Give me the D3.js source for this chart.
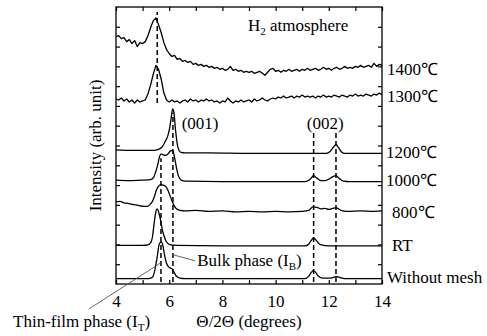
<!DOCTYPE html>
<html><head><meta charset="utf-8">
<script src="https://cdn.jsdelivr.net/npm/d3@7"></script>
<style>
body{margin:0;background:#fff}
svg{display:block}
text{font-family:"Liberation Serif","Times New Roman",serif;font-size:17px;fill:#000}
</style>
</head><body><svg id="c" width="487" height="336"></svg>
<script>
// ---------- data ----------
const xTickValues = [4,5,6,7,8,9,10,11,12,13,14];
const xTickLabels = [4,6,8,10,12,14];
const yTickValues = [20,40,60,80,100,120,140,160,180,200,220,240,260];
const seriesNames = ["1400℃","1300℃","1200℃","1000℃","800℃","RT","Without mesh"];

// noisy scans (sampled every 0.1 deg)
const thetaGrid = [4.0,4.1,4.2,4.3,4.4,4.5,4.6,4.7,4.8,4.9,5.0,5.1,5.2,5.3,5.4,5.5,5.6,5.7,5.8,5.9,
6.0,6.1,6.2,6.3,6.4,6.5,6.6,6.7,6.8,6.9,7.0,7.1,7.2,7.3,7.4,7.5,7.6,7.7,7.8,7.9,
8.0,8.1,8.2,8.3,8.4,8.5,8.6,8.7,8.8,8.9,9.0,9.1,9.2,9.3,9.4,9.5,9.6,9.7,9.8,9.9,
10.0,10.1,10.2,10.3,10.4,10.5,10.6,10.7,10.8,10.9,11.0,11.1,11.2,11.3,11.4,11.5,11.6,11.7,11.8,11.9,
12.0,12.1,12.2,12.3,12.4,12.5,12.6,12.7,12.8,12.9,13.0,13.1,13.2,13.3,13.4,13.5,13.6,13.7,13.8,13.9,14.0];

const i1400 = [250,251,248,249,245,247,243,246,240,244,243,245,251,259,266,269,262,254,244,237,
233,230,231,227,228,225,226,224,225,222,223,221,222,220,221,219,220,218,219,217,
218,216,217,220,216,217,215,216,214,215,214,215,213,214,215,213,211,214,217,218,
215,216,214,216,215,217,215,216,217,215,217,216,218,216,217,218,216,217,219,217,
218,216,218,219,217,218,220,218,219,218,220,219,221,219,220,221,219,223,220,222,221];

const i1300 = [187,186,188,185,187,184,186,183,186,184,185,186,192,201,212,221,217,207,193,186,
184,186,184,185,183,185,186,184,187,185,186,184,186,185,187,185,186,184,185,183,
185,184,188,185,183,185,184,186,184,185,186,184,187,185,186,188,186,185,187,188,
187,189,188,190,188,189,190,188,190,189,191,189,190,189,190,188,190,189,191,189,
190,189,191,190,189,191,190,189,191,190,192,190,191,190,192,191,190,192,191,193,191];

// smooth scans: [2theta, intensity]
const i1200 = [[4.0,135.5],[4.5,135],[5.0,135],[5.4,135],[5.6,136],[5.75,139],[5.85,144],[5.95,150],
[6.02,158],[6.08,169],[6.13,177],[6.18,173],[6.23,158],[6.3,142],[6.37,135],[6.45,133],[6.6,132.5],
[7.5,132.5],[9.0,132],[10.5,132],[11.5,132],[11.9,132],[12.05,134],[12.18,138.5],[12.27,141],
[12.36,138],[12.48,133.5],[12.6,132],[13.2,132],[14.0,132]];
const i1000 = [[4.0,105],[4.5,104.5],[5.0,105],[5.3,105.5],[5.42,108],[5.5,114],[5.58,122],[5.64,129],
[5.7,131.5],[5.78,130.5],[5.87,130],[5.95,131.5],[6.05,134.5],[6.13,135],[6.2,128],[6.27,118],
[6.35,109],[6.45,105],[6.6,104],[8.0,103.5],[10.0,103.5],[11.1,103.5],[11.3,106],[11.43,109.5],
[11.55,107],[11.7,104.5],[11.85,104.5],[12.0,106],[12.15,108.5],[12.27,109.5],[12.4,106.5],
[12.55,104],[12.8,103.5],[14.0,103.5]];
const i800 = [[4.0,83],[4.15,83.5],[4.3,82],[4.45,81.5],[4.6,80.5],[4.75,80],[4.9,79],[5.05,78.5],
[5.18,78.5],[5.3,81],[5.37,83.5],[5.45,89],[5.52,95],[5.6,99],[5.68,100.5],[5.78,100],[5.87,98.5],
[5.95,95],[6.02,90],[6.1,84.5],[6.18,79.5],[6.27,76],[6.4,74.5],[6.6,74],[7.0,74.5],[7.5,73.5],
[8.0,74],[8.5,73],[9.0,73.5],[9.5,73],[10.0,73.5],[10.5,73],[11.0,73.5],[11.25,74.5],[11.4,78],
[11.55,77.5],[11.7,76],[11.85,76.5],[12.0,75.5],[12.15,76.5],[12.28,77],[12.45,74.5],[12.7,73.5],
[13.2,74],[13.7,73.5],[14.0,74]];
const iRT = [[4.0,39],[5.0,39],[5.2,39.5],[5.3,41.5],[5.37,47.5],[5.43,60.5],[5.49,72],[5.55,76],
[5.61,72],[5.68,64],[5.74,55],[5.8,49],[5.87,44],[5.93,41.5],[6.05,39.5],[6.3,39],[8.0,38.5],
[11.1,38.5],[11.25,40.5],[11.35,44.5],[11.42,46.5],[11.5,45],[11.6,41.5],[11.72,39.5],[12.0,38.5],[14.0,38.5]];
const iNoMesh = [[4.0,5.5],[5.2,5.5],[5.35,6.5],[5.43,10.5],[5.5,20],[5.55,27.5],[5.62,40],[5.7,42.5],
[5.76,39],[5.82,30],[5.9,21],[5.97,17.5],[6.05,16],[6.12,15],[6.2,11],[6.28,7.5],[6.4,6],[6.6,5.5],
[11.1,5.5],[11.25,8],[11.35,12],[11.42,13.5],[11.5,12],[11.6,8],[11.75,6],[12.05,6],[12.2,7],
[12.3,7.5],[12.42,6.5],[12.6,5.5],[14.0,5.5]];

// reference peak positions (dashed guides): [2theta, from, to]
const guides = [[5.55,183,275],[5.69,2,127],[6.14,2,173],[11.43,2,154],[12.27,2,156]];

// ---------- layout ----------
const W = 487, H = 336;
const plot = {left:116, right:382, top:7, bottom:284};
const svg = d3.select("#c");
const x = d3.scaleLinear().domain([4,14]).range([plot.left, plot.right]);
const y = d3.scaleLinear().domain([0,280]).range([plot.bottom, plot.top]);

const scans = [
  thetaGrid.map((t,i)=>[t,i1400[i]]),
  thetaGrid.map((t,i)=>[t,i1300[i]]),
  i1200, i1000, i800, iRT, iNoMesh
];
const labelLayout = [
  {dx:5, dy:9.5},{dx:5, dy:7},{dx:4, dy:4.5},{dx:4, dy:4},{dx:10, dy:7},{dx:10, dy:5.5},{dx:5, dy:4.2}
];

// frame
svg.append("rect").attr("x",plot.left).attr("y",plot.top)
  .attr("width",plot.right-plot.left).attr("height",plot.bottom-plot.top)
  .attr("fill","none").attr("stroke","#000").attr("stroke-width",1.3);

const tl = 4;
const gx = svg.append("g").attr("transform",`translate(0,${plot.bottom})`)
  .call(d3.axisBottom(x).tickValues(xTickValues).tickSize(-tl).tickPadding(10)
    .tickFormat(d=>xTickLabels.includes(d)?d:""));
const gxt = svg.append("g").attr("transform",`translate(0,${plot.top})`)
  .call(d3.axisTop(x).tickValues(xTickValues).tickSize(-tl).tickFormat(""));
const gy = svg.append("g").attr("transform",`translate(${plot.left},0)`)
  .call(d3.axisLeft(y).tickValues(yTickValues).tickSize(-tl).tickFormat(""));
const gyr = svg.append("g").attr("transform",`translate(${plot.right},0)`)
  .call(d3.axisRight(y).tickValues(yTickValues).tickSize(-tl).tickFormat(""));
[gx,gxt,gy,gyr].forEach(g=>{
  g.select(".domain").remove();
  g.selectAll(".tick line").attr("stroke","#000").attr("stroke-width",1.2);
  g.selectAll("text").attr("font-family",null).attr("font-size",null).attr("fill","#000");
});
gx.selectAll(".tick text").attr("dy",null).attr("y",23);

// guides
svg.append("g").selectAll("line").data(guides).join("line")
  .attr("x1",d=>x(d[0])).attr("x2",d=>x(d[0]))
  .attr("y1",d=>y(d[1])).attr("y2",d=>y(d[2]))
  .attr("stroke","#000").attr("stroke-width",1.5).attr("stroke-dasharray","5,3");

// scans
const line = d3.line().x(d=>x(d[0])).y(d=>y(d[1])).curve(d3.curveLinear);
const smooth = d3.line().x(d=>x(d[0])).y(d=>y(d[1])).curve(d3.curveMonotoneX);
svg.append("g").selectAll("path").data(scans).join("path")
  .attr("d",(d,i)=> i<2 ? line(d) : smooth(d))
  .attr("fill","none").attr("stroke","#000").attr("stroke-width",1.3)
  .attr("stroke-linejoin","round");

// series labels
svg.append("g").selectAll("text").data(seriesNames).join("text")
  .attr("x",(d,i)=>plot.right+labelLayout[i].dx)
  .attr("y",(d,i)=>{const s=scans[i]; return y(s[s.length-1][1])+labelLayout[i].dy;})
  .text(d=>d);

// annotations
function sub(el, main, s, tail){
  el.append("tspan").text(main);
  el.append("tspan").attr("font-size","11px").attr("dy",4).text(s);
  if(tail) el.append("tspan").attr("dy",-4).text(tail);
}
sub(svg.append("text").attr("x",x(8.96)).attr("y",y(256)), "H", "2", " atmosphere");
svg.append("text").attr("x",x(6.47)).attr("y",y(157)).text("(001)");
svg.append("text").attr("x",x(11.17)).attr("y",y(157)).text("(002)");
sub(svg.append("text").attr("x",x(7.05)).attr("y",y(18)), "Bulk phase (I", "B", ")");
sub(svg.append("text").attr("x",x(0.13)).attr("y",y(-43.5)), "Thin-film phase (I", "T", ")");
svg.append("line").attr("x1",x(6.18)).attr("y1",y(29.3)).attr("x2",x(6.97)).attr("y2",y(23.5))
  .attr("stroke","#555").attr("stroke-width",0.9);
svg.append("line").attr("x1",x(2.98)).attr("y1",y(-25.3)).attr("x2",x(5.67)).attr("y2",y(21.2))
  .attr("stroke","#555").attr("stroke-width",0.9);

// axis titles
svg.append("text").attr("x",(plot.left+plot.right)/2).attr("y",327)
  .attr("text-anchor","middle").text("Θ/2Θ (degrees)");
svg.append("text").attr("transform",`translate(101,${(plot.top+plot.bottom)/2}) rotate(-90)`)
  .attr("text-anchor","middle").text("Intensity (arb. unit)");
</script>
</body></html>
